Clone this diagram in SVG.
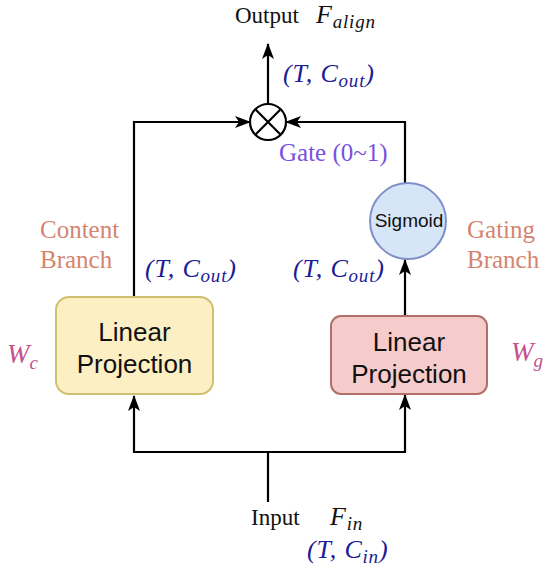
<svg xmlns="http://www.w3.org/2000/svg" width="550" height="573" viewBox="0 0 550 573">
<defs>
<marker id="ah" viewBox="0 0 16 12" refX="15" refY="6" markerWidth="16" markerHeight="12" markerUnits="userSpaceOnUse" orient="auto">
<path d="M0,0 L16,6 L0,12 L4,6 Z" fill="#000"/>
</marker>
</defs>
<style>
.ln{fill:none;stroke:#000;stroke-width:2.2;stroke-linejoin:miter}
.serif{font-family:"Liberation Serif","Times New Roman",serif}
.math{font-family:"Liberation Serif","Times New Roman",serif;font-style:italic;font-size:26px;fill:#1c1c96;letter-spacing:0.8px}
.blk{fill:#111}
.lbl{font-family:"Liberation Serif",serif;font-size:25px;fill:#d4846f}
.w{font-family:"Liberation Serif",serif;font-style:italic;font-size:27px;fill:#c4508e}
.box{font-family:"Liberation Sans",Arial,sans-serif;font-size:26px;fill:#111;text-anchor:middle}
</style>
<rect width="550" height="573" fill="#fff"/>
<g id="connectors">
<path class="ln" d="M268,104 L268,44" marker-end="url(#ah)"/>
<path class="ln" d="M134,297 L134,122 L250,122" marker-end="url(#ah)"/>
<path class="ln" d="M405,183 L405,122 L286,122" marker-end="url(#ah)"/>
<path class="ln" d="M405,316 L405,260" marker-end="url(#ah)"/>
<path class="ln" d="M268,502 L268,452"/>
<path class="ln" d="M134,452 L405,452"/>
<path class="ln" d="M134,453 L134,396" marker-end="url(#ah)"/>
<path class="ln" d="M405,453 L405,395" marker-end="url(#ah)"/>
</g>
<g id="multiply">
<circle cx="268" cy="122" r="18" fill="#fff" stroke="#000" stroke-width="2.2"/>
<path d="M255.3,109.3 L280.7,134.7 M280.7,109.3 L255.3,134.7" stroke="#000" stroke-width="2.2"/>
</g>
<g id="content-proj">
<rect x="56" y="297" width="157" height="97" rx="13" fill="#fcefc4" stroke="#cfc070" stroke-width="2"/>
<text class="box" x="134.5" y="341">Linear</text>
<text class="box" x="134.5" y="373">Projection</text>
</g>
<g id="gating-proj">
<rect x="331" y="316" width="156" height="78" rx="10" fill="#f6cbcb" stroke="#b0706a" stroke-width="2"/>
<text class="box" x="409" y="351">Linear</text>
<text class="box" x="409" y="383">Projection</text>
</g>
<g id="sigmoid">
<circle cx="408" cy="221" r="38" fill="#d6e5f7" stroke="#8090c8" stroke-width="2"/>
<text x="409" y="227" font-family="Liberation Sans,Arial,sans-serif" font-size="19" fill="#111" text-anchor="middle">Sigmoid</text>
</g>
<g id="output">
<text class="serif" x="235" y="23" font-size="23" fill="#111">Output</text>
<text class="math blk" x="316" y="23">F<tspan font-size="19" dy="5">align</tspan></text>
<text class="math" x="283" y="82">(T, C<tspan font-size="19" dy="5">out</tspan><tspan dy="-5">)</tspan></text>
<text class="serif" x="279" y="161" font-size="25" fill="#7a50e0">Gate (0~1)</text>
</g>
<g id="content-label">
<text class="lbl" x="40" y="238">Content</text>
<text class="lbl" x="40" y="268">Branch</text>
<text class="math" x="145" y="277">(T, C<tspan font-size="19" dy="5">out</tspan><tspan dy="-5">)</tspan></text>
<text class="w" x="7" y="363">W<tspan font-size="19" dy="6">c</tspan></text>
</g>
<g id="gating-label">
<text class="lbl" x="467" y="238">Gating</text>
<text class="lbl" x="467" y="268">Branch</text>
<text class="math" x="293" y="277">(T, C<tspan font-size="19" dy="5">out</tspan><tspan dy="-5">)</tspan></text>
<text class="w" x="511" y="361">W<tspan font-size="19" dy="6">g</tspan></text>
</g>
<g id="input">
<text class="serif" x="251" y="525" font-size="23" fill="#111">Input</text>
<text class="math blk" x="330" y="525">F<tspan font-size="19" dy="5">in</tspan></text>
<text class="math" x="307" y="558">(T, C<tspan font-size="19" dy="5">in</tspan><tspan dy="-5">)</tspan></text>
</g>
</svg>
